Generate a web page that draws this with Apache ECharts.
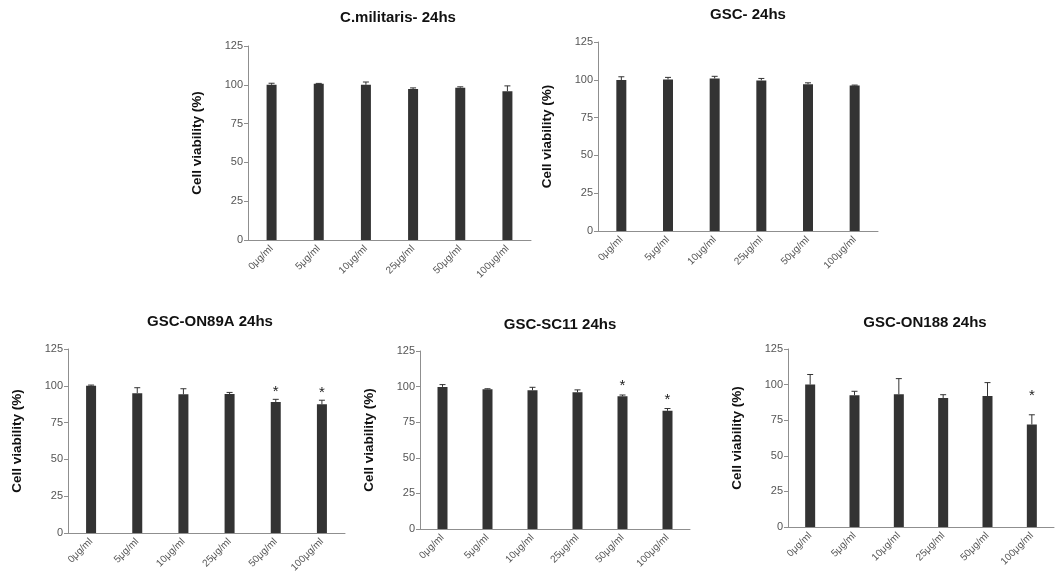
<!DOCTYPE html>
<html>
<head>
<meta charset="utf-8">
<title>Cell viability 24hs</title>
<script src="https://cdn.jsdelivr.net/npm/echarts@6/dist/echarts.min.js"></script>
<style>
  html, body { margin: 0; padding: 0; background: #ffffff; }
  #chart { width: 1055px; height: 575px; }
</style>
</head>
<body>
<div id="chart"></div>
<script>
// Dose categories shared by every panel
const doses = ['0μg/ml', '5μg/ml', '10μg/ml', '25μg/ml', '50μg/ml', '100μg/ml'];

// Y axis range (cell viability %)
const yMin = 0;
const yMax = 125;
const yStep = 25;

// C.militaris, 24hs
const cmMean = [100.0, 100.6, 100.0, 97.3, 98.1, 95.9];
const cmErr  = [1.0, 0.3, 1.8, 0.7, 0.6, 3.4];
const cmSig  = [0, 0, 0, 0, 0, 0];

// GSC, 24hs
const gscMean = [99.8, 100.2, 100.9, 99.6, 97.1, 96.2];
const gscErr  = [2.2, 1.4, 1.4, 1.3, 0.9, 0.3];
const gscSig  = [0, 0, 0, 0, 0, 0];

// GSC-ON89A, 24hs
const on89Mean = [100.0, 95.0, 94.2, 94.4, 89.0, 87.4];
const on89Err  = [0.5, 3.7, 3.8, 1.1, 1.8, 2.8];
const on89Sig  = [0, 0, 0, 0, 1, 1];

// GSC-SC11, 24hs
const sc11Mean = [99.8, 98.1, 97.4, 96.0, 93.2, 83.0];
const sc11Err  = [1.6, 0.4, 2.1, 1.7, 0.9, 1.6];
const sc11Sig  = [0, 0, 0, 0, 1, 1];

// GSC-ON188, 24hs
const on188Mean = [100.0, 92.5, 93.2, 90.6, 92.0, 72.0];
const on188Err  = [7.1, 2.8, 11.0, 2.3, 9.4, 6.8];
const on188Sig  = [0, 0, 0, 0, 0, 1];

const FONT = '"Liberation Sans", Arial, Helvetica, sans-serif';
const BAR = '#333333';
const AXIS = '#8f8f8f';

// Panel layout: plot rectangles, title centres, star spacing above the error cap
const panels = [
  { title: 'C.militaris- 24hs', mean: cmMean, err: cmErr, sig: cmSig,
    grid: { left: 248, top: 46, width: 283, height: 194 }, tx: 393, ty: 5, starGap: 8 },
  { title: 'GSC- 24hs', mean: gscMean, err: gscErr, sig: gscSig,
    grid: { left: 598, top: 42, width: 280, height: 189 }, tx: 743, ty: 2, starGap: 8 },
  { title: 'GSC-ON89A 24hs', mean: on89Mean, err: on89Err, sig: on89Sig,
    grid: { left: 68, top: 349, width: 277, height: 184 }, tx: 205, ty: 309, starGap: 7 },
  { title: 'GSC-SC11 24hs', mean: sc11Mean, err: sc11Err, sig: sc11Sig,
    grid: { left: 420, top: 351, width: 270, height: 178 }, tx: 555, ty: 312, starGap: 9 },
  { title: 'GSC-ON188 24hs', mean: on188Mean, err: on188Err, sig: on188Sig,
    grid: { left: 788, top: 349, width: 266, height: 178 }, tx: 920, ty: 310, starGap: 19 }
];

function errorBarRenderer(starGap) {
  return function (params, api) {
    const x = api.value(0);
    const v = api.value(1);
    const e = api.value(2);
    const s = api.value(3);
    const base = api.coord([x, v]);
    const top = api.coord([x, v + e]);
    const style = { stroke: BAR, lineWidth: 1 };
    const children = [
      { type: 'line', shape: { x1: base[0], y1: base[1], x2: top[0], y2: top[1] }, style: style },
      { type: 'line', shape: { x1: top[0] - 3, y1: top[1], x2: top[0] + 3, y2: top[1] }, style: style }
    ];
    if (s) {
      children.push({
        type: 'text',
        style: {
          text: '*', x: top[0], y: top[1] - starGap,
          align: 'center', verticalAlign: 'middle',
          fontFamily: FONT, fontSize: 15, fill: '#222'
        }
      });
    }
    return { type: 'group', children: children };
  };
}

const option = {
  backgroundColor: '#ffffff',
  animation: false,
  title: panels.map(p => ({
    text: p.title, left: p.tx, top: p.ty, textAlign: 'center',
    textStyle: { fontFamily: FONT, fontSize: 15, fontWeight: 'bold', color: '#111' }
  })),
  grid: panels.map(p => Object.assign({ containLabel: false }, p.grid)),
  xAxis: panels.map((p, i) => ({
    type: 'category', gridIndex: i, data: doses,
    axisLine: { show: true, lineStyle: { color: AXIS, width: 1 } },
    axisTick: { show: false },
    axisLabel: { interval: 0, rotate: 45, margin: 7, fontFamily: FONT, fontSize: 10, color: '#555' },
    splitLine: { show: false }
  })),
  yAxis: panels.map((p, i) => ({
    type: 'value', gridIndex: i, min: yMin, max: yMax, interval: yStep,
    name: 'Cell viability (%)', nameLocation: 'middle', nameGap: 44,
    nameTextStyle: { fontFamily: FONT, fontSize: 13.5, fontWeight: 'bold', color: '#111' },
    axisLine: { show: true, lineStyle: { color: AXIS, width: 1 } },
    axisTick: { show: true, length: 4, lineStyle: { color: AXIS } },
    axisLabel: { fontFamily: FONT, fontSize: 11, color: '#555', margin: 5 },
    splitLine: { show: false }
  })),
  series: panels.flatMap((p, i) => [
    {
      type: 'bar', xAxisIndex: i, yAxisIndex: i, data: p.mean,
      barWidth: 10, itemStyle: { color: BAR }, silent: true
    },
    {
      type: 'custom', xAxisIndex: i, yAxisIndex: i, z: 3, silent: true,
      data: p.mean.map((v, j) => [j, v, p.err[j], p.sig[j]]),
      encode: { x: 0, y: 1 },
      renderItem: errorBarRenderer(p.starGap)
    }
  ])
};

const chart = echarts.init(document.getElementById('chart'), null, { renderer: 'canvas' });
chart.setOption(option);
</script>
</body>
</html>
